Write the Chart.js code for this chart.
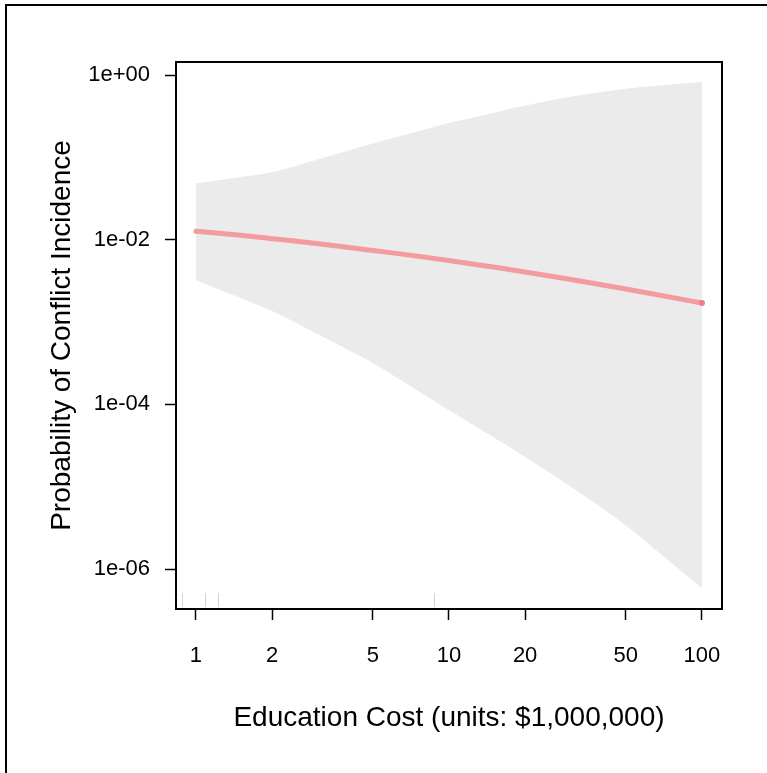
<!DOCTYPE html>
<html>
<head>
<meta charset="utf-8">
<script src="https://cdn.jsdelivr.net/npm/chart.js@4/dist/chart.umd.min.js"></script>
<style>
  html, body { margin: 0; padding: 0; background: #fff; }
  #frame {
    position: absolute; left: 5px; top: 4px; width: 800px; height: 800px;
    border-top: 2px solid #000; border-left: 2px solid #000;
  }
  #chart { position: absolute; left: 0; top: 0; }
</style>
</head>
<body>
<div id="frame"></div>
<canvas id="chart" width="767" height="773"></canvas>
<script>
// Education cost (millions) where the fit is evaluated
const costValues = [1, 1.5, 2, 3, 5, 7, 10, 15, 20, 30, 50, 70, 100];
// Predicted probability and its confidence band
const fitValues   = [0.0127, 0.0113, 0.0103, 0.0090, 0.0074, 0.0065, 0.0056, 0.00465, 0.00406, 0.00331, 0.00252, 0.00209, 0.0017];
const upperValues = [0.048, 0.0577, 0.066, 0.0938, 0.147, 0.195, 0.262, 0.347, 0.426, 0.545, 0.682, 0.752, 0.822];
const lowerValues = [0.00323, 0.00196, 0.00136, 0.000723, 0.000317, 0.000168, 8.5e-5, 3.98e-5, 2.29e-5, 1.02e-5, 3.39e-6, 1.45e-6, 5.85e-7];
// Observed costs shown as a rug
const rugValues = [0.88, 1.09, 1.22, 8.7];

const xTickValues = [1, 2, 5, 10, 20, 50, 100];
const xTickLabels = ['1', '2', '5', '10', '20', '50', '100'];
const yTickValues = [1e-6, 1e-4, 1e-2, 1];
const yTickLabels = ['1e-06', '1e-04', '1e-02', '1e+00'];

const FONT = "'Liberation Sans', Arial, sans-serif";

const toPoints = (ys) => costValues.map((x, i) => ({ x: x, y: ys[i] }));

// light grey rug ticks along the bottom of the plot
const rugPlugin = {
  id: 'rug',
  beforeDatasetsDraw(chart) {
    const { ctx, chartArea, scales } = chart;
    ctx.save();
    ctx.strokeStyle = '#d6d6d6';
    ctx.lineWidth = 1;
    rugValues.forEach(v => {
      const px = Math.round(scales.x.getPixelForValue(v)) + 0.5;
      ctx.beginPath();
      ctx.moveTo(px, chartArea.bottom - 2);
      ctx.lineTo(px, chartArea.bottom - 16);
      ctx.stroke();
    });
    ctx.restore();
  }
};

// box around the plotting region
const boxPlugin = {
  id: 'box',
  afterDatasetsDraw(chart) {
    const { ctx, chartArea } = chart;
    ctx.save();
    ctx.strokeStyle = '#000';
    ctx.lineWidth = 2;
    ctx.strokeRect(chartArea.left, chartArea.top, chartArea.right - chartArea.left, chartArea.bottom - chartArea.top);
    ctx.restore();
  }
};

new Chart(document.getElementById('chart'), {
  type: 'line',
  data: {
    datasets: [
      {
        label: 'fit',
        data: toPoints(fitValues),
        borderColor: '#f39b9e',
        borderWidth: 5,
        borderCapStyle: 'round',
        cubicInterpolationMode: 'monotone',
        pointRadius: (c) => c.dataIndex === costValues.length - 1 ? 3 : 0,
        pointBackgroundColor: '#f27a81',
        pointBorderWidth: 0,
        fill: false,
        order: 0
      },
      {
        label: 'lower',
        data: toPoints(lowerValues),
        borderWidth: 0,
        pointRadius: 0,
        cubicInterpolationMode: 'monotone',
        fill: false,
        order: 2
      },
      {
        label: 'upper',
        data: toPoints(upperValues),
        borderWidth: 0,
        pointRadius: 0,
        cubicInterpolationMode: 'monotone',
        backgroundColor: '#ebebeb',
        fill: '-1',
        order: 1
      }
    ]
  },
  options: {
    responsive: false,
    animation: false,
    layout: { padding: { top: 62, right: 45, left: 0, bottom: 0 } },
    plugins: {
      legend: { display: false },
      tooltip: { enabled: false }
    },
    scales: {
      x: {
        type: 'logarithmic',
        position: 'bottom',
        min: 0.834,
        max: 120,
        afterBuildTicks: (s) => { s.ticks = xTickValues.map(v => ({ value: v })); },
        afterFit: (s) => { s.height = 773 - 609; },
        ticks: {
          callback: (v) => xTickLabels[xTickValues.indexOf(v)],
          autoSkip: false,
          maxRotation: 0,
          padding: 23,
          color: '#000',
          font: { family: FONT, size: 22 }
        },
        grid: { drawOnChartArea: false, drawTicks: true, tickLength: 11, tickColor: '#000', tickWidth: 1.5 },
        border: { display: false },
        title: {
          display: true,
          text: 'Education Cost (units: $1,000,000)',
          color: '#000',
          font: { family: FONT, size: 28 },
          padding: { top: 0, bottom: 38 }
        }
      },
      y: {
        type: 'logarithmic',
        position: 'left',
        min: 3.27e-7,
        max: 1.44,
        afterBuildTicks: (s) => { s.ticks = yTickValues.map(v => ({ value: v })); },
        afterFit: (s) => { s.width = 176; },
        ticks: {
          callback: (v) => yTickLabels[yTickValues.indexOf(v)],
          autoSkip: false,
          padding: 15,
          color: '#000',
          font: { family: FONT, size: 22 }
        },
        grid: { drawOnChartArea: false, drawTicks: true, tickLength: 11, tickColor: '#000', tickWidth: 1.5 },
        border: { display: false },
        title: {
          display: true,
          text: 'Probability of Conflict Incidence',
          color: '#000',
          font: { family: FONT, size: 28 },
          padding: { top: 45, bottom: 0 }
        }
      }
    }
  },
  plugins: [rugPlugin, boxPlugin]
});
</script>
</body>
</html>
